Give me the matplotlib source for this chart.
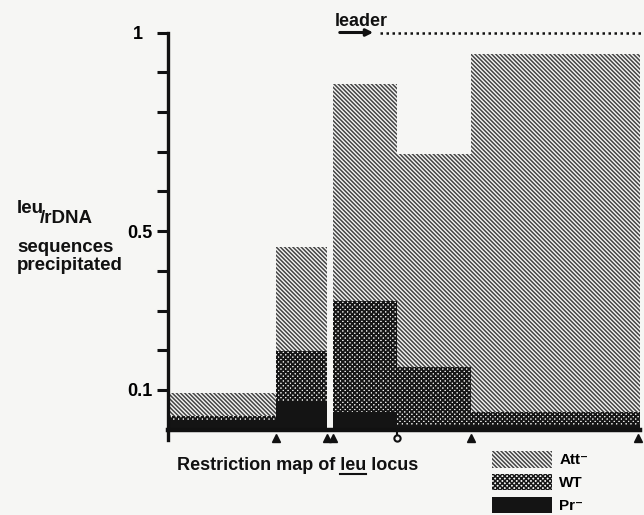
import matplotlib
matplotlib.use("Agg")
import matplotlib.pyplot as plt
from matplotlib.patches import Patch

# restriction sites along the leu locus (map units), and the fragments between them
sites = [0.0, 1.08, 1.59, 1.65, 2.29, 3.03, 4.72]
frag_left = [0.0, 1.08, 1.65, 2.29, 3.03]
frag_right = [1.08, 1.59, 2.29, 3.03, 4.72]
triangle_sites = [1.08, 1.59, 1.65, 3.03, 4.70]
circle_sites = [2.29]

# leu/rDNA sequences precipitated per fragment
att = [0.092, 0.459, 0.871, 0.695, 0.945]
wt = [0.034, 0.197, 0.325, 0.157, 0.045]
pr = [0.024, 0.071, 0.045, 0.012, 0.012]

ytick_vals = [0.1, 0.2, 0.3, 0.4, 0.5, 0.6, 0.7, 0.8, 0.9, 1.0]
ytick_labels = ["0.1", "", "", "", "0.5", "", "", "", "", "1  "]

bg = "#f6f6f4"
att_hatch = "\\" * 8
wt_hatch = "x" * 7
plt.rcParams["font.family"] = ["Liberation Sans", "DejaVu Sans"]
plt.rcParams["font.weight"] = "bold"
plt.rcParams["hatch.linewidth"] = 1.1

W, H = 644, 515
fig = plt.figure(figsize=(W / 100, H / 100), dpi=100, facecolor=bg)
ax = fig.add_axes([168 / W, (H - 429.7) / H, (640 - 168) / W, (429.7 - 32.5) / H])
ax.set_facecolor(bg)

widths = [r - l for l, r in zip(frag_left, frag_right)]
ax.bar(frag_left, att, width=widths, align="edge", facecolor=bg,
       edgecolor="#444444", hatch=att_hatch, linewidth=0)
plt.rcParams["hatch.linewidth"] = 1.35
ax.bar(frag_left, wt, width=widths, align="edge", facecolor=bg,
       edgecolor="#161616", hatch=wt_hatch, linewidth=0)
wt_handle = Patch(facecolor=bg, edgecolor="#161616", hatch=wt_hatch, linewidth=0)
plt.rcParams["hatch.linewidth"] = 1.1
ax.bar(frag_left, pr, width=widths, align="edge", color="#141414", linewidth=0)

ax.set_xlim(0, 4.72)
ax.set_ylim(0, 1.0)
for s in ["top", "right"]:
    ax.spines[s].set_visible(False)
ax.spines["left"].set_linewidth(2.4)
ax.spines["bottom"].set_linewidth(3.2)
ax.spines["left"].set_color("#111111")
ax.spines["bottom"].set_color("#111111")

ax.set_xticks([])
ax.set_yticks(ytick_vals)
ax.set_yticklabels(ytick_labels, fontsize=13, fontweight="bold")
ax.tick_params(axis="y", length=8, width=2.2, color="#111111", pad=3)

# restriction map markers below the axis
ax.plot([0, 0], [0, -0.027], color="#111111", lw=2.4, clip_on=False)
ax.plot(triangle_sites, [-0.02] * len(triangle_sites), "^", color="#111111",
        markersize=6, clip_on=False)
for c in circle_sites:
    ax.plot([c, c], [0, -0.014], color="#111111", lw=1.5, clip_on=False)
    ax.plot([c], [-0.022], "o", mfc=bg, mec="#111111", mew=1.5, markersize=4.5,
            clip_on=False)

# leader arrow and dotted line
ax.annotate("", xy=(2.08, 1.0), xytext=(1.69, 1.0),
            arrowprops=dict(arrowstyle="-|>", color="#111111", lw=2.2,
                            mutation_scale=10), annotation_clip=False)
ax.plot([2.12, 4.76], [1.0, 1.0], color="#111111", lw=1.8, ls=(0, (1, 1.4)),
        clip_on=False)
fig.text(335 / W, 1 - 26 / H, "leader", fontsize=13, fontweight="bold",
         va="baseline", ha="left", color="#111111")

# y label
fs_y = 13.5
fig.text(17 / W, 1 - 213 / H, "leu", fontsize=fs_y, fontweight="bold", va="baseline", color="#111111")
fig.text(40 / W, 1 - 223 / H, "/rDNA", fontsize=fs_y, fontweight="bold", va="baseline", color="#111111")
fig.text(17 / W, 1 - 252 / H, "sequences", fontsize=fs_y, fontweight="bold", va="baseline", color="#111111")
fig.text(17 / W, 1 - 270 / H, "precipitated", fontsize=fs_y, fontweight="bold", va="baseline", color="#111111")

# x label with underlined leu
fs_x = 13
xl = "Restriction map of leu locus"
x0, ybase = 177 / W, 1 - 470 / H
fig.text(x0, ybase, xl, fontsize=fs_x, fontweight="bold", va="baseline", color="#111111")
r = fig.canvas.get_renderer()
tmp1 = fig.text(0, 0, "Restriction map of leu", fontsize=fs_x, fontweight="bold")
tmp2 = fig.text(0, 0, "leu", fontsize=fs_x, fontweight="bold")
w1 = tmp1.get_window_extent(r).width / W
w2 = tmp2.get_window_extent(r).width / W
tmp1.remove()
tmp2.remove()
fig.add_artist(plt.Line2D([x0 + w1 - w2, x0 + w1], [ybase - 4 / H, ybase - 4 / H],
                          color="#111111", lw=1.5))

handles = [
    Patch(facecolor=bg, edgecolor="#444444", hatch=att_hatch, linewidth=0),
    wt_handle,
    Patch(facecolor="#141414", linewidth=0),
]
ax.legend(handles, ["Att\u207b", "WT", "Pr\u207b"], loc="upper left",
          bbox_to_anchor=(492 / W, 1 - 451 / H), bbox_transform=fig.transFigure,
          frameon=False, borderpad=0, borderaxespad=0, handlelength=3.9,
          handleheight=1.3, labelspacing=0.4, handletextpad=0.5,
          prop={"size": 11, "weight": "bold"})

fig.savefig("out.png", dpi=100, facecolor=bg)
